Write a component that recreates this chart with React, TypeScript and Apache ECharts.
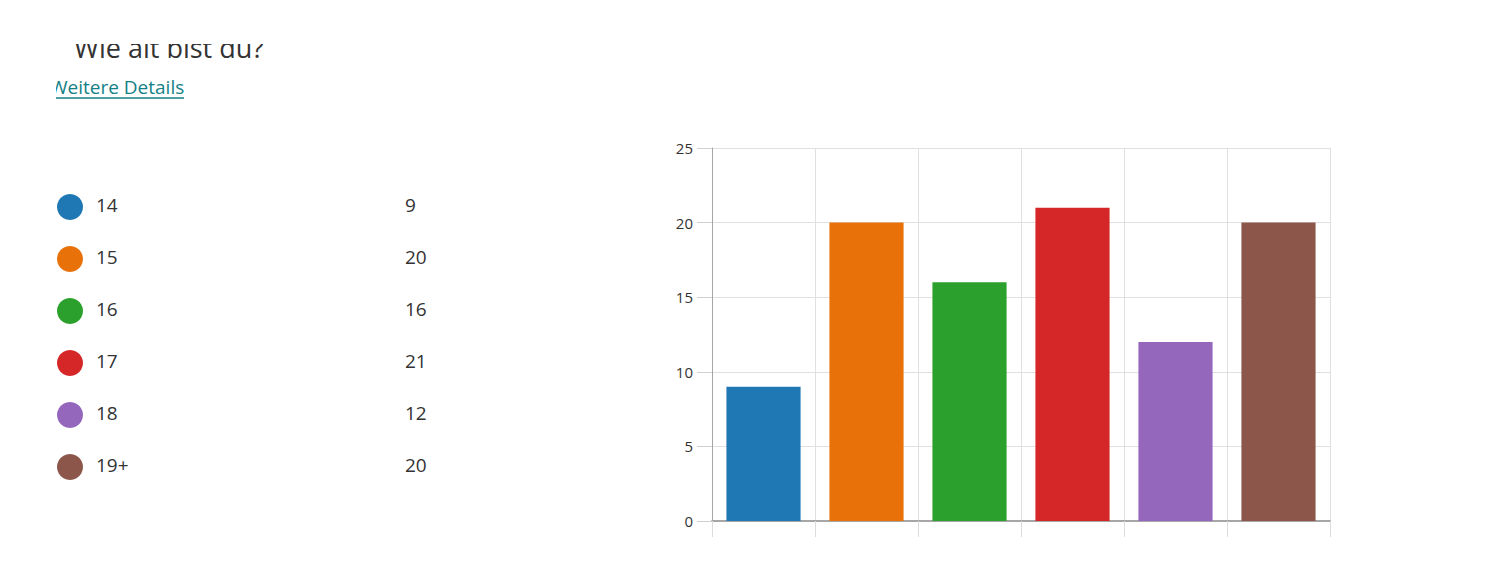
import React, { useEffect, useRef } from "react";
import * as echarts from "echarts";

const categories = ["14", "15", "16", "17", "18", "19+"];
const counts = [9, 20, 16, 21, 12, 20];
const colors = ["#1f77b4", "#e8710a", "#2ca02c", "#d62728", "#9467bd", "#8c564b"];
const yTicks = [0, 5, 10, 15, 20, 25];
const titleText = "Wie alt bist du?";
const linkText = "Weitere Details";

const FONT = "'Open Sans', 'Noto Sans', sans-serif";

export default function App() {
  const ref = useRef<HTMLDivElement>(null);
  useEffect(() => {
    if (!ref.current) return;
    const chart = echarts.init(ref.current, undefined, { renderer: "svg" });
    const legendEls: any[] = [];
    categories.forEach((c, i) => {
      const cy = 207 + i * 52;
      legendEls.push({
        type: "circle",
        shape: { cx: 70, cy, r: 13 },
        style: { fill: colors[i] },
      });
      legendEls.push({
        type: "text",
        x: 96,
        y: cy - 2,
        style: { text: c, fill: "#333", font: `19px ${FONT}`, verticalAlign: "middle" },
      });
      legendEls.push({
        type: "text",
        x: 405,
        y: cy - 2,
        style: { text: String(counts[i]), fill: "#333", font: `19px ${FONT}`, verticalAlign: "middle" },
      });
    });
    chart.setOption({
      animation: false,
      grid: { left: 712, right: 170, top: 148, bottom: 46, containLabel: false },
      xAxis: {
        type: "category",
        data: categories,
        boundaryGap: true,
        axisLine: { show: true, lineStyle: { color: "#a6a6a6", width: 2 } },
        axisTick: { show: true, length: 16, lineStyle: { color: "#dcdcdc" } },
        axisLabel: { show: false },
        splitLine: { show: true, lineStyle: { color: "#e0e0e0" } },
      },
      yAxis: {
        type: "value",
        min: 0,
        max: 25,
        interval: 5,
        axisLine: { show: true, lineStyle: { color: "#a6a6a6" } },
        axisTick: { show: true, inside: false, length: 15, lineStyle: { color: "#d0d0d0" } },
        axisLabel: {
          color: "#333",
          fontSize: 15,
          fontFamily: FONT,
          margin: 19,
          formatter: (v: number) => (yTicks.includes(v) ? String(v) : ""),
        },
        splitLine: { show: true, lineStyle: { color: "#e0e0e0" } },
      },
      series: [
        {
          type: "bar",
          barWidth: "72%",
          data: counts.map((v, i) => ({ value: v, itemStyle: { color: colors[i] } })),
        },
      ],
      graphic: [
        {
          type: "text",
          x: 74,
          y: 34,
          style: { text: titleText, fill: "#333", font: `27px ${FONT}` },
        },
        {
          type: "text",
          x: 50,
          y: 87,
          style: { text: linkText, fill: "#137f86", font: `19px ${FONT}`, verticalAlign: "middle" },
        },
        {
          type: "line",
          shape: { x1: 50, y1: 98, x2: 184, y2: 98 },
          style: { stroke: "#137f86", lineWidth: 1.5 },
        },
        {
          type: "rect",
          z: 100,
          shape: { x: 0, y: 0, width: 1500, height: 44 },
          style: { fill: "#fff" },
        },
        {
          type: "rect",
          z: 100,
          shape: { x: 0, y: 0, width: 56, height: 120 },
          style: { fill: "#fff" },
        },
        ...legendEls,
      ],
    });
    return () => chart.dispose();
  }, []);
  return (
    <div
      ref={ref}
      style={{ position: "absolute", left: 0, top: 0, width: 1500, height: 567, background: "#fff" }}
    />
  );
}
